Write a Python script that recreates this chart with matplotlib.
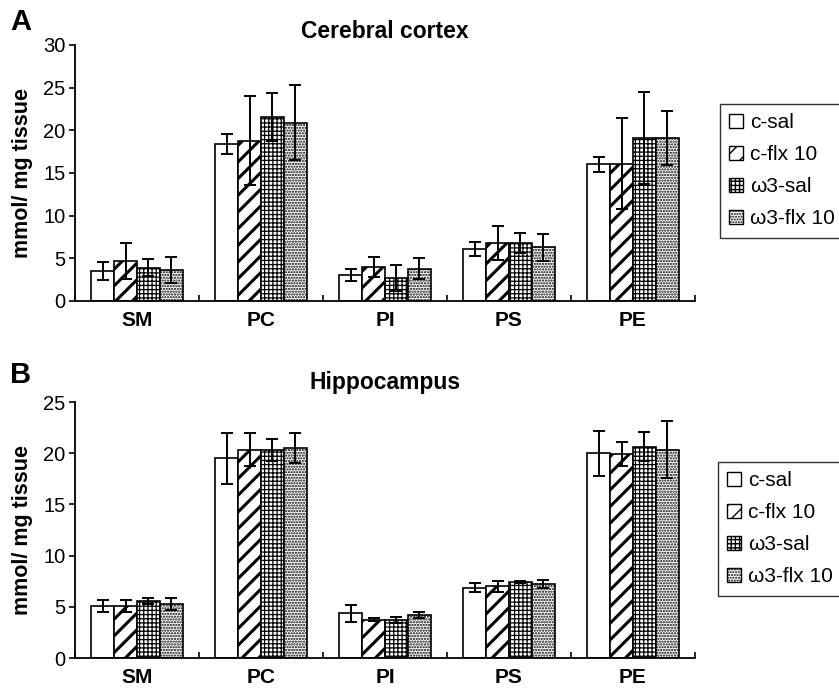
import matplotlib

matplotlib.use("Agg")
import matplotlib.pyplot as plt
from matplotlib.patches import Patch

plt.rcParams["font.family"] = ["Liberation Sans", "DejaVu Sans"]

lipids = ["SM", "PC", "PI", "PS", "PE"]
groups = ["c-sal", "c-flx 10", "ω3-sal", "ω3-flx 10"]

# cerebral cortex, mean and error per group (order: SM, PC, PI, PS, PE)
cortex_mean = {
    "c-sal": [3.5, 18.4, 3.1, 6.1, 16.0],
    "c-flx 10": [4.7, 18.8, 4.0, 6.8, 16.1],
    "ω3-sal": [3.9, 21.6, 2.7, 6.8, 19.1],
    "ω3-flx 10": [3.65, 20.9, 3.8, 6.3, 19.1],
}
cortex_err = {
    "c-sal": [1.05, 1.2, 0.7, 0.8, 0.9],
    "c-flx 10": [2.1, 5.2, 1.2, 2.0, 5.3],
    "ω3-sal": [1.0, 2.8, 1.5, 1.2, 5.4],
    "ω3-flx 10": [1.5, 4.4, 1.25, 1.6, 3.2],
}

# hippocampus
hippo_mean = {
    "c-sal": [5.1, 19.5, 4.35, 6.85, 20.0],
    "c-flx 10": [5.1, 20.35, 3.75, 7.0, 19.9],
    "ω3-sal": [5.55, 20.3, 3.75, 7.4, 20.65],
    "ω3-flx 10": [5.25, 20.5, 4.2, 7.2, 20.35],
}
hippo_err = {
    "c-sal": [0.6, 2.5, 0.8, 0.45, 2.2],
    "c-flx 10": [0.6, 1.6, 0.15, 0.55, 1.15],
    "ω3-sal": [0.3, 1.1, 0.3, 0.1, 1.45],
    "ω3-flx 10": [0.6, 1.45, 0.3, 0.4, 2.8],
}

HATCH = {"c-sal": "", "c-flx 10": "//", "ω3-sal": "++++", "ω3-flx 10": "......"}
HATCH_LW = {"c-sal": 1.0, "c-flx 10": 2.2, "ω3-sal": 0.9, "ω3-flx 10": 1.1}

W, H = 839, 688
fig = plt.figure(figsize=(W / 100, H / 100), dpi=100)


def px_axes(left, top, right, bottom):
    return fig.add_axes([left / W, 1 - bottom / H, (right - left) / W, (bottom - top) / H])


def panel(ax, means, errs, ymax, ystep):
    bw = 0.184
    x = range(len(lipids))
    for i, g in enumerate(groups):
        xs = [k + (i - 1.5) * bw for k in x]
        bars = ax.bar(xs, means[g], bw, color="white", edgecolor="black",
                      linewidth=1.2, hatch=HATCH[g], zorder=2)
        for b in bars:
            if hasattr(b, "set_hatch_linewidth"):
                b.set_hatch_linewidth(HATCH_LW[g])
        ax.errorbar(xs, means[g], yerr=errs[g], fmt="none", ecolor="black",
                    elinewidth=1.4, capsize=4, capthick=1.4, zorder=3)
    ax.set_xlim(-0.5, len(lipids) - 0.5)
    ax.set_ylim(0, ymax)
    ax.set_yticks(range(0, ymax + 1, ystep))
    ax.set_xticks([k - 0.5 for k in range(len(lipids) + 1)])
    ax.set_xticklabels([])
    ax.set_xticks(list(x), minor=True)
    ax.set_xticklabels(lipids, minor=True, fontsize=15, fontweight="bold")
    ax.tick_params(axis="x", which="minor", length=0, pad=7)
    ax.tick_params(axis="x", which="major", length=4, width=1.2, direction="in")
    ax.tick_params(axis="y", length=4, width=1.2, labelsize=14.5, pad=3)
    for s in ("top", "right"):
        ax.spines[s].set_visible(False)
    for s in ("left", "bottom"):
        ax.spines[s].set_linewidth(1.3)
    ax.set_ylabel("mmol/ mg tissue", fontsize=15.5, fontweight="bold", labelpad=7)


def legend_at(ax, left, top):
    handles = [Patch(facecolor="white", edgecolor="black", hatch=HATCH[g],
                     linewidth=1.0, label=g) for g in groups]
    leg = ax.legend(handles=handles, loc="upper left",
                    bbox_to_anchor=(left / W, 1 - top / H),
                    bbox_transform=fig.transFigure, fontsize=15,
                    frameon=True, fancybox=False, edgecolor="black",
                    handlelength=0.65, handleheight=0.65, handletextpad=0.35,
                    labelspacing=0.62, borderpad=0.45, borderaxespad=0)
    leg.get_frame().set_linewidth(1.0)


ax1 = px_axes(75, 45, 695, 301)
panel(ax1, cortex_mean, cortex_err, 30, 5)
legend_at(ax1, 720, 104)

ax2 = px_axes(75, 402, 695, 658)
panel(ax2, hippo_mean, hippo_err, 25, 5)
legend_at(ax2, 718, 462)

fig.text(385 / W, 1 - 31 / H, "Cerebral cortex", ha="center", va="center",
         fontsize=16.5, fontweight="bold")
fig.text(385 / W, 1 - 383 / H, "Hippocampus", ha="center", va="center",
         fontsize=16.5, fontweight="bold")
fig.text(10 / W, 1 - 22 / H, "A", ha="left", va="center",
         fontsize=21, fontweight="bold")
fig.text(10 / W, 1 - 375 / H, "B", ha="left", va="center",
         fontsize=21, fontweight="bold")

fig.savefig("out.png", dpi=100)
